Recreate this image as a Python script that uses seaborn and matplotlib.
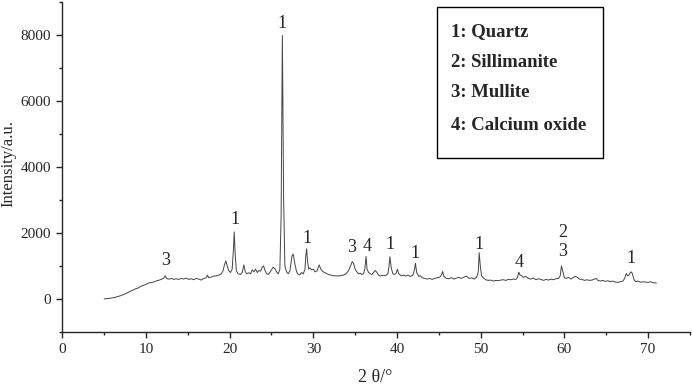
import matplotlib
matplotlib.use("Agg")
import matplotlib.pyplot as plt
from matplotlib.patches import Rectangle
from matplotlib.ticker import MultipleLocator
import pandas as pd
import seaborn as sns

# XRD pattern (2 theta in degrees, intensity in a.u.)
two_theta = [
    5.0, 5.5, 6.0, 6.5, 7.0, 7.5, 8.0, 8.3, 8.5, 8.7, 9.0, 9.3, 9.5, 9.8, 10.0, 10.3, 10.5, 10.8,
    11.0, 11.3, 11.5, 11.8, 12.1, 12.3, 12.5, 12.8,
    13.0, 13.3, 13.6, 13.9, 14.2, 14.5, 14.8, 15.1, 15.4, 15.7, 16.0, 16.3, 16.6, 16.9,
    17.2, 17.35, 17.5, 17.8, 18.1, 18.4, 18.7, 19.0, 19.2, 19.4, 19.55, 19.7, 19.9,
    20.1, 20.3, 20.45, 20.55, 20.65, 20.8, 21.0, 21.3, 21.5, 21.7, 21.85, 22.0, 22.3,
    22.5, 22.7, 22.9, 23.1, 23.3, 23.5, 23.7, 23.9, 24.05, 24.2, 24.4, 24.6, 24.8,
    25.0, 25.2, 25.4, 25.6, 25.8, 26.0, 26.15, 26.3, 26.45, 26.6, 26.8, 27.0, 27.2,
    27.45, 27.6, 27.8, 28.0, 28.2, 28.4, 28.6, 28.8, 29.0, 29.1, 29.2, 29.3, 29.45,
    29.6, 29.8, 30.0, 30.2, 30.45, 30.7, 30.9, 31.1, 31.3, 31.5, 31.8, 32.1, 32.4,
    32.7, 33.0, 33.3, 33.6, 33.9, 34.2, 34.45, 34.65, 34.8, 35.0, 35.2, 35.4, 35.6,
    35.8, 36.0, 36.15, 36.3, 36.42, 36.6, 36.8, 37.0, 37.2, 37.4, 37.6, 37.8, 38.0,
    38.3, 38.6, 38.9, 39.05, 39.15, 39.3, 39.5, 39.7, 39.9, 40.05, 40.2, 40.5, 40.8,
    41.0, 41.3, 41.6, 41.9, 42.1, 42.2, 42.35, 42.6, 42.8, 43.0, 43.3, 43.6, 43.9,
    44.2, 44.5, 44.8, 45.1, 45.3, 45.45, 45.6, 45.9, 46.2, 46.5, 46.8, 47.1, 47.4,
    47.7, 48.0, 48.3, 48.6, 48.9, 49.2, 49.5, 49.7, 49.82, 49.95, 50.1, 50.3, 50.6,
    50.9, 51.2, 51.5, 51.8, 52.1, 52.4, 52.7, 53.0, 53.3, 53.6, 53.9, 54.2, 54.4,
    54.55, 54.7, 54.9, 55.1, 55.4, 55.7, 56.0, 56.3, 56.6, 56.9, 57.2, 57.5, 57.8,
    58.1, 58.4, 58.7, 59.0, 59.3, 59.5, 59.65, 59.8, 60.0, 60.2, 60.5, 60.8, 61.0,
    61.3, 61.5, 61.8, 62.1, 62.4, 62.7, 63.0, 63.3, 63.6, 63.8, 64.0, 64.3, 64.6,
    64.9, 65.2, 65.5, 65.8, 66.1, 66.4, 66.7, 67.0, 67.2, 67.4, 67.55, 67.7, 67.95,
    68.1, 68.3, 68.5, 68.8, 69.1, 69.4, 69.7, 70.0, 70.3, 70.6, 71.0,
]
intensity = [
    0, 10, 30, 60, 100, 150, 210, 250, 270, 300, 320, 370, 390, 420, 440, 480, 490, 500,
    520, 550, 560, 590, 620, 700, 610, 600,
    620, 590, 610, 590, 620, 600, 630, 590, 610, 580, 620, 600, 570, 620,
    640, 720, 640, 660, 690, 700, 720, 760, 850, 1050, 1150, 1000, 850,
    800, 900, 1500, 2030, 1400, 850, 760, 740, 800, 1030, 850, 760, 790,
    760, 880, 820, 900, 800, 860, 840, 960, 1000, 880, 770, 740, 800,
    880, 960, 920, 820, 760, 900, 2500, 7980, 3000, 1000, 820, 760, 850,
    1300, 1360, 1050, 820, 740, 730, 800, 760, 900, 1300, 1520, 1150, 900,
    940, 880, 900, 820, 850, 1030, 900, 840, 800, 780, 740, 720, 700,
    700, 690, 710, 720, 760, 850, 1000, 1130, 1080, 900, 820, 760, 780,
    740, 760, 900, 1290, 900, 800, 760, 740, 800, 860, 800, 720, 690,
    720, 700, 760, 1000, 1280, 950, 760, 740, 780, 900, 760, 700, 720,
    690, 720, 680, 720, 900, 1080, 800, 680, 700, 640, 620, 600, 620,
    590, 620, 640, 660, 720, 830, 680, 620, 610, 640, 600, 630, 650,
    620, 660, 690, 620, 640, 600, 650, 800, 1400, 1000, 700, 640, 580,
    560, 570, 540, 560, 550, 570, 580, 560, 590, 580, 600, 590, 650,
    810, 720, 700, 650, 680, 620, 600, 630, 580, 610, 590, 560, 590,
    570, 600, 580, 610, 620, 700, 1000, 850, 640, 620, 650, 600, 640,
    680, 660, 600, 590, 560, 580, 560, 570, 600, 620, 560, 540, 560,
    530, 550, 520, 540, 510, 500, 520, 540, 620, 770, 700, 720, 820,
    780, 600, 520, 540, 500, 520, 510, 500, 520, 490, 480,
]

# phase labels above the peaks
peak_labels = ["3", "1", "1", "1", "3", "4", "1", "1", "1", "4", "2", "3", "1"]
label_x = [12.3, 20.6, 26.3, 29.2, 34.6, 36.4, 39.2, 42.2, 49.8, 54.6, 59.8, 59.8, 68.0]
label_y = [1150, 2400, 8350, 1820, 1570, 1600, 1640, 1390, 1640, 1090, 2000, 1430, 1210]

legend_lines = ["1: Quartz", "2: Sillimanite", "3: Mullite", "4: Calcium oxide"]

sns.set_style("ticks")
plt.rcParams["font.family"] = ["Liberation Serif", "DejaVu Serif"]

df = pd.DataFrame({"two_theta": two_theta, "intensity": intensity})

fig, ax = plt.subplots(figsize=(6.92, 3.85), dpi=100)
fig.subplots_adjust(left=0.09, right=0.997, bottom=0.138, top=0.995)

sns.lineplot(data=df, x="two_theta", y="intensity", ax=ax, color="#444444",
             linewidth=0.7, estimator=None)

for lab, xx, yy in zip(peak_labels, label_x, label_y):
    ax.text(xx, yy, lab, ha="center", va="center", fontsize=13)

# legend box
ax.add_patch(Rectangle((0.597, 0.527), 0.264, 0.458, transform=ax.transAxes,
                       fill=False, edgecolor="black", linewidth=1.0))
for i, line in enumerate(legend_lines):
    ax.text(0.619, [0.909, 0.815, 0.724, 0.624][i], line, transform=ax.transAxes,
            ha="left", va="center", fontsize=13.5, fontweight="bold")

ax.set_xlim(0, 75)
ax.set_ylim(-1000, 9000)
ax.xaxis.set_major_locator(MultipleLocator(10))
ax.xaxis.set_minor_locator(MultipleLocator(5))
ax.yaxis.set_major_locator(MultipleLocator(2000))
ax.yaxis.set_minor_locator(MultipleLocator(1000))
ax.set_yticks([0, 2000, 4000, 6000, 8000])
ax.tick_params(which="major", direction="out", length=4.5, width=1, labelsize=11)
ax.tick_params(which="minor", direction="out", length=2.5, width=1)
sns.despine(ax=ax)
for s in ["left", "bottom"]:
    ax.spines[s].set_linewidth(1.0)

ax.set_xlabel("2 θ/°", fontsize=13)
ax.set_ylabel("Intensity/a.u.", fontsize=12)
ax.xaxis.set_label_coords(0.498, -0.112)
ax.yaxis.set_label_coords(-0.073, 0.51)

fig.savefig("out.png", dpi=100)
